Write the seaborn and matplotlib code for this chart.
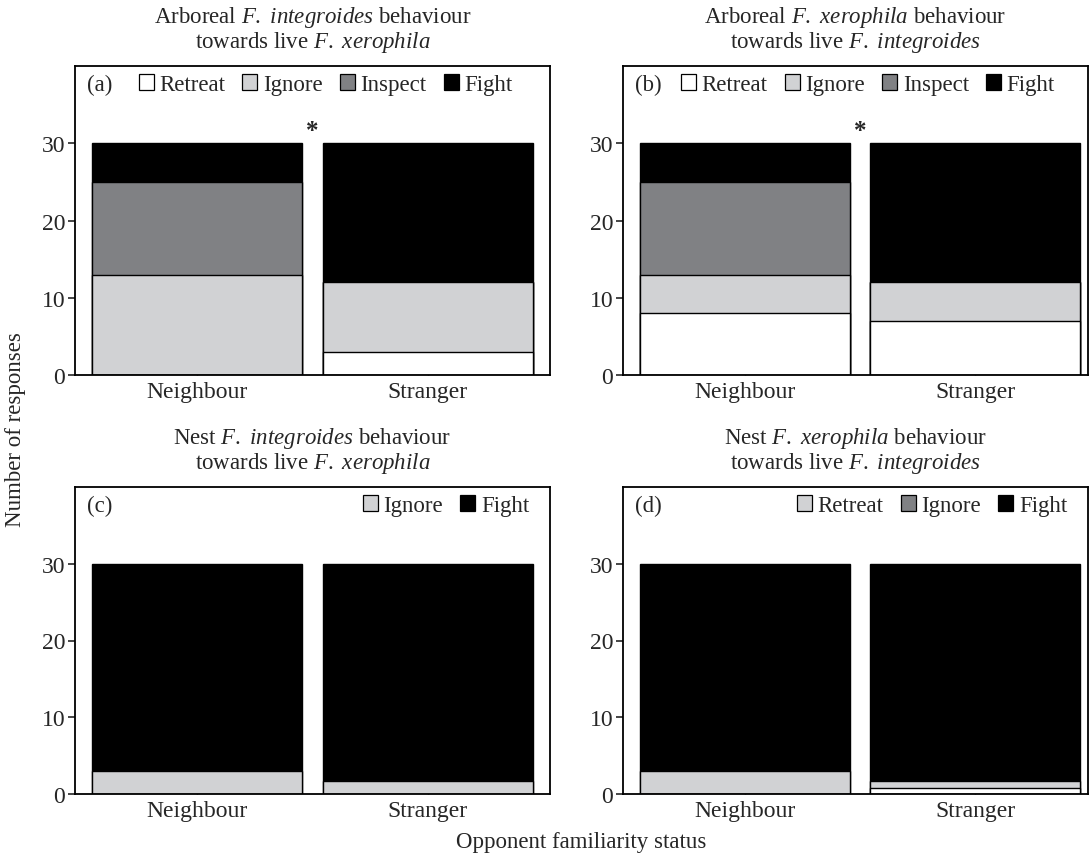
import matplotlib
matplotlib.use("Agg")
import matplotlib.pyplot as plt
from matplotlib.patches import Patch
import seaborn as sns

# ---- data ----
categories = ["Neighbour", "Stranger"]

# panel (a): arboreal F. integroides vs live F. xerophila
a_retreat = [0, 3]
a_ignore = [13, 9]
a_inspect = [12, 0]
a_fight = [5, 18]

# panel (b): arboreal F. xerophila vs live F. integroides
b_retreat = [8, 7]
b_ignore = [5, 5]
b_inspect = [12, 0]
b_fight = [5, 18]

# panel (c): nest F. integroides vs live F. xerophila
c_ignore = [3, 1.7]
c_fight = [27, 28.3]

# panel (d): nest F. xerophila vs live F. integroides
d_white = [0, 0.8]
d_grey = [3, 0.9]
d_fight = [27, 28.3]

WHITE, LIGHT, DARK, BLACK = "#ffffff", "#d1d2d4", "#808184", "#000000"

sns.set_style("ticks")
plt.rcParams["font.family"] = ["Liberation Serif", "DejaVu Serif"]
plt.rcParams["mathtext.fontset"] = "custom"
plt.rcParams["mathtext.rm"] = "Liberation Serif"
plt.rcParams["mathtext.it"] = "Liberation Serif:italic"
plt.rcParams["axes.linewidth"] = 1.3
FS = 16.5


def stacked(ax, segments, colors):
    # draw cumulative totals from the top down so each layer sits on the next
    cum = []
    run = [0.0] * len(categories)
    for seg in segments:
        run = [r + s for r, s in zip(run, seg)]
        cum.append(run)
    for tot, col in reversed(list(zip(cum, colors))):
        sns.barplot(x=categories, y=tot, color=col, saturation=1, width=0.91,
                    edgecolor="black", linewidth=1.0, ax=ax)


fig = plt.figure(figsize=(10.89, 8.54), dpi=100)
W, H = 1089, 854
def place(l, t, r, b):
    return fig.add_axes([l / W, 1 - b / H, (r - l) / W, (b - t) / H])

ax_a = place(75, 67, 550, 376)
ax_b = place(623, 67, 1088, 376)
ax_c = place(75, 488, 550, 795)
ax_d = place(623, 488, 1088, 795)

stacked(ax_a, [a_retreat, a_ignore, a_inspect, a_fight], [WHITE, LIGHT, DARK, BLACK])
stacked(ax_b, [b_retreat, b_ignore, b_inspect, b_fight], [WHITE, LIGHT, DARK, BLACK])
stacked(ax_c, [c_ignore, c_fight], [LIGHT, BLACK])
stacked(ax_d, [d_white, d_grey, d_fight], [WHITE, LIGHT, BLACK])

titles = {
    ax_a: "Arboreal $F.$ $integroides$ behaviour\ntowards live $F.$ $xerophila$",
    ax_b: "Arboreal $F.$ $xerophila$ behaviour\ntowards live $F.$ $integroides$",
    ax_c: "Nest $F.$ $integroides$ behaviour\ntowards live $F.$ $xerophila$",
    ax_d: "Nest $F.$ $xerophila$ behaviour\ntowards live $F.$ $integroides$",
}
for ax, t in titles.items():
    ax.set_title(t, fontsize=FS, pad=14, linespacing=1.0)
    ax.set_ylim(0, 40)
    ax.set_yticks([0, 10, 20, 30])
    ax.set_xlim(-0.53, 1.53 if ax in (ax_a, ax_c) else 1.49)
    ax.set_xlabel("")
    ax.set_ylabel("")
    for s in ax.spines.values():
        s.set_visible(True)
        s.set_color("black")
    ax.tick_params(axis="y", direction="out", length=5, width=1.2, labelsize=17, pad=2)
    ax.tick_params(axis="x", direction="in", length=3, width=1.0, labelsize=17, pad=4)

def sq(c):
    return Patch(facecolor=c, edgecolor="black", linewidth=0.9)

four = [sq(WHITE), sq(LIGHT), sq(DARK), sq(BLACK)]
four_lab = ["Retreat", "Ignore", "Inspect", "Fight"]
leg_kw = dict(frameon=False, fontsize=FS, handlelength=0.65, handleheight=0.65,
              handletextpad=0.25, columnspacing=0.75, borderaxespad=0.2)

for ax, lab in [(ax_a, "(a)"), (ax_b, "(b)"), (ax_c, "(c)"), (ax_d, "(d)")]:
    ax.text(0.025, 0.94, lab, transform=ax.transAxes, fontsize=FS, va="center", ha="left")

ax_a.legend(four, four_lab, ncol=4, loc="center left", bbox_to_anchor=(0.105, 0.94), **leg_kw)
ax_b.legend(four, four_lab, ncol=4, loc="center left", bbox_to_anchor=(0.095, 0.94), **leg_kw)
ax_c.legend([sq(LIGHT), sq(BLACK)], ["Ignore", "Fight"], ncol=2, loc="center right",
            bbox_to_anchor=(0.985, 0.94), **leg_kw)
ax_d.legend([sq(LIGHT), sq(DARK), sq(BLACK)], ["Retreat", "Ignore", "Fight"], ncol=3,
            loc="center right", bbox_to_anchor=(0.985, 0.94), **leg_kw)

for ax in (ax_a, ax_b):
    ax.text(0.5, 31.6, "*", ha="center", va="center", fontsize=18, fontweight="bold")

fig.text(0.014, 1 - 430 / H, "Number of responses", rotation=90, fontsize=FS,
         ha="center", va="center")
fig.text(581 / W, 1 - 843 / H, "Opponent familiarity status", fontsize=FS,
         ha="center", va="center")

fig.savefig("out.png", dpi=100)
